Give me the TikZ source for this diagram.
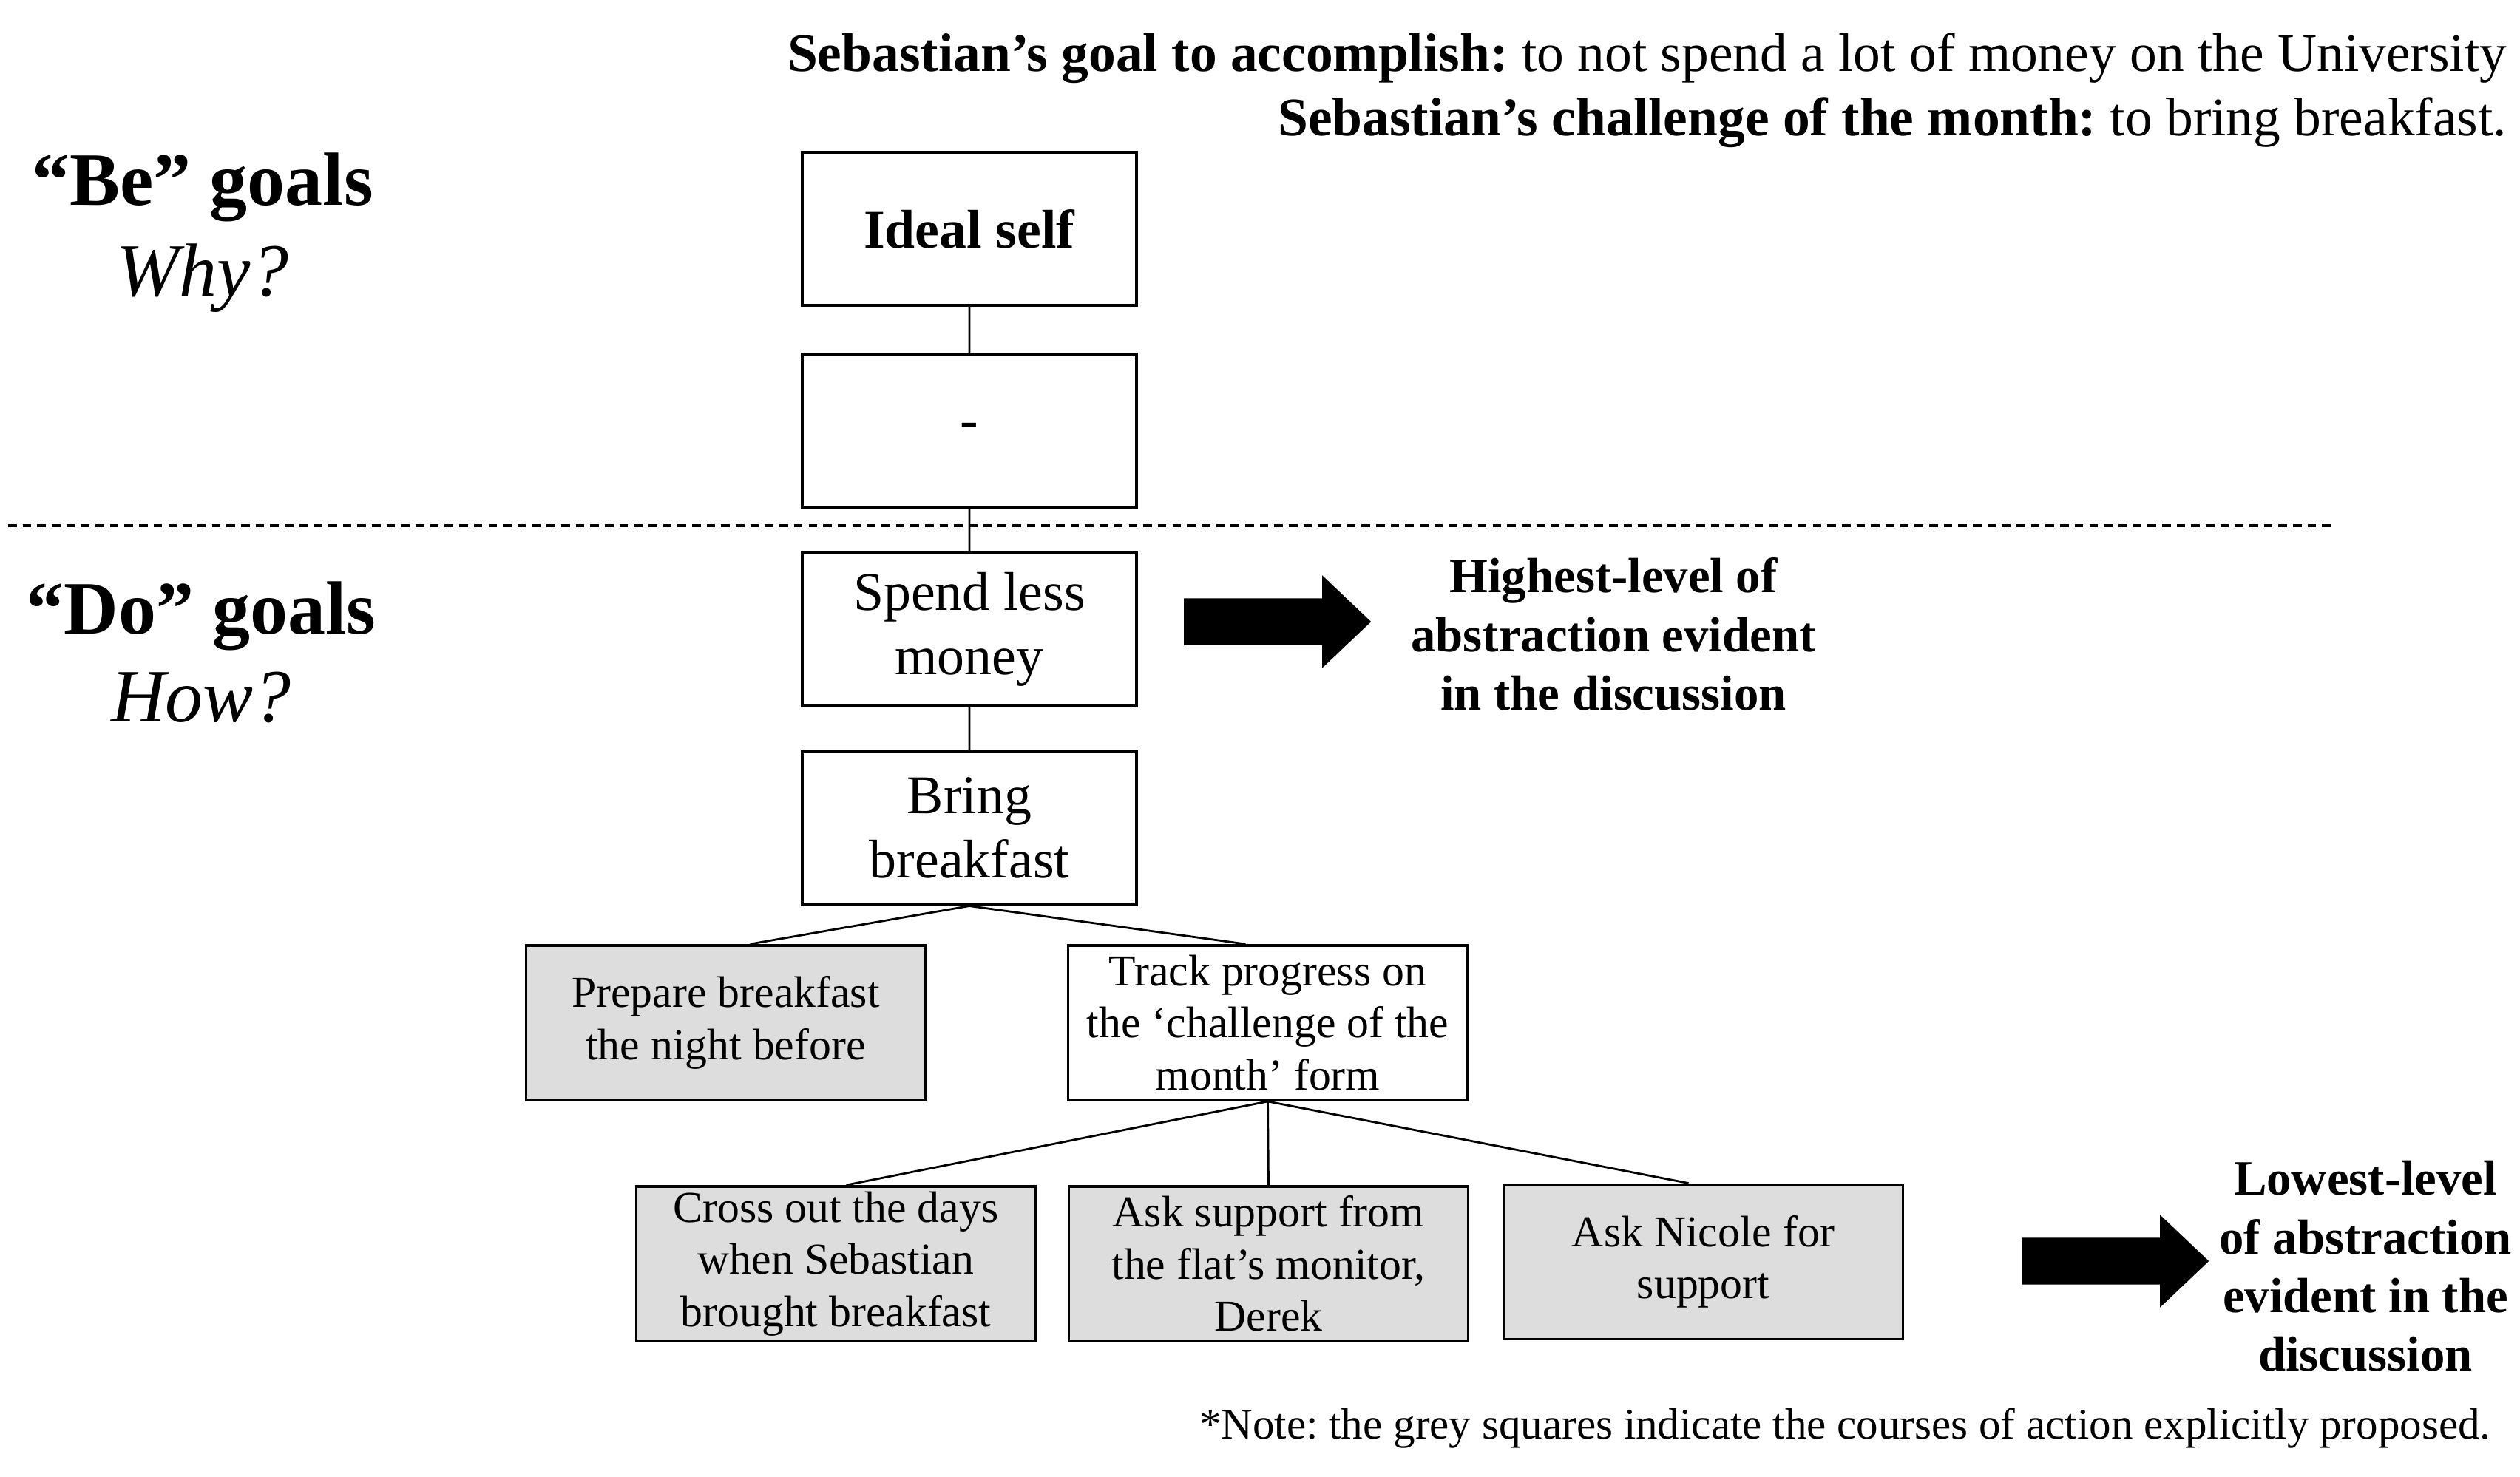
\documentclass[tikz,border=0pt]{standalone}
\usepackage{fontspec}
\setmainfont{Liberation Serif}
\frenchspacing
\usetikzlibrary{positioning, shapes.arrows, calc}
\definecolor{actionGrey}{HTML}{DDDDDD}

\begin{document}
\begin{tikzpicture}[
    goal/.style={draw=black, line width=1.1pt, minimum width=4.52cm, minimum height=2.07cm, inner sep=0pt, align=center, font=\fontsize{21}{24.7}\selectfont},
    action/.style={draw=black, line width=1.1pt, minimum width=5.40cm, minimum height=2.09cm, inner sep=0pt, align=center, font=\fontsize{17}{20}\selectfont},
    proposed/.style={action, fill=actionGrey},
    link/.style={draw=black, line width=0.8pt},
    levelArrow/.style={single arrow, fill=black, draw=none, inner sep=0pt, inner ysep=0.31cm, minimum height=2.53cm, single arrow head extend=0.31cm, single arrow tip angle=87},
    side/.style={align=center, font=\fontsize{19}{22.6}\selectfont\bfseries}
]
    \useasboundingbox (0,0) rectangle (34.08,-19.98);

    % Header
    \node[anchor=east, align=right, inner sep=0pt, font=\fontsize{20.9}{24.7}\selectfont] (header) at (33.91,-1.22)
        {\textbf{Sebastian’s goal to accomplish:} to not spend a lot of money on the University\\
         \textbf{Sebastian’s challenge of the month:} to bring breakfast.};

    % Be / Do labels
    \node[align=center, font=\fontsize{29}{35}\selectfont] (beLabel) at (2.74,-3.15)
        {\textbf{“Be” goals}\\ \textit{Why?}};
    \node[align=center, font=\fontsize{29}{34}\selectfont] (doLabel) at (2.72,-8.825)
        {\textbf{“Do” goals}\\ \textit{How?}};

    % Divider
    \coordinate (divLeft) at (0.11,-7.11);
    \coordinate (divRight) at (31.56,-7.11);
    \draw[line width=1pt, dash pattern=on 3.3pt off 2.3pt] (divLeft) -- (divRight);

    % Goal hierarchy
    \node[goal] (ideal) at (13.11,-3.095) {\textbf{Ideal self}};
    \node[goal, below=0.62cm of ideal] (blank) {-};
    \node[goal, below=0.58cm of blank] (spend) {Spend less\\money};
    \node[goal, below=0.58cm of spend] (bring) {Bring\\breakfast};

    % Courses of action
    \node[proposed] (prepare) at (9.815,-13.835) {Prepare breakfast\\the night before};
    \node[action] (track) at (17.145,-13.835) {Track progress on\\the ‘challenge of the\\month’ form};
    \node[proposed] (cross) at (11.305,-17.095) {Cross out the days\\when Sebastian\\brought breakfast};
    \node[proposed] (monitor) at (17.155,-17.095) {Ask support from\\the flat’s monitor,\\Derek};
    \node[proposed] (nicole) at (23.035,-17.07) {Ask Nicole for\\support};

    % Links
    \path[link] (ideal) -- (blank)
                (blank) -- (spend)
                (spend) -- (bring)
                (bring.south) -- ($(prepare.north)+(0.33,0)$)
                (bring.south) -- ($(track.north)+(-0.3,0)$)
                (track.south) -- ($(cross.north)+(0.14,0)$)
                (track.south) -- (monitor.north)
                (track.south) -- ($(nicole.north)+(-0.2,0)$);

    % Abstraction arrows
    \node[levelArrow] (highArrow) at (17.11,-8.41) {};
    \node[side] (highText) at (21.82,-8.58) {Highest-level of\\abstraction evident\\in the discussion};
    \node[levelArrow] (lowArrow) at (28.44,-17.06) {};
    \node[side] (lowText) at (31.99,-17.13) {Lowest-level\\of abstraction\\evident in the\\discussion};

    % Note
    \node[anchor=east, inner sep=0pt, font=\fontsize{16.8}{20}\selectfont] (note) at (33.69,-19.32)
        {*Note: the grey squares indicate the courses of action explicitly proposed.};
\end{tikzpicture}
\end{document}
